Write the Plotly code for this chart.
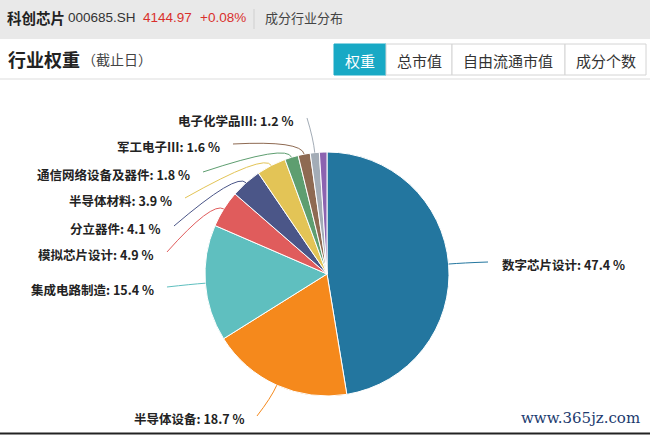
import math
import plotly.graph_objects as go

# ---------------- data ----------------
INDUSTRIES = ["数字芯片设计", "半导体设备", "集成电路制造", "模拟芯片设计", "分立器件",
              "半导体材料", "通信网络设备及器件", "军工电子Ⅲ", "电子化学品Ⅲ", "其他"]
WEIGHTS = [47.4, 18.7, 15.4, 4.9, 4.1, 3.9, 1.8, 1.6, 1.2, 1.0]
SHOW_LABEL = [True, True, True, True, True, True, True, True, True, False]

INDEX_NAME = "科创芯片"
INDEX_CODE = "000685.SH"
INDEX_PRICE = "4144.97"
INDEX_CHANGE = "+0.08%"
TABS = ["权重", "总市值", "自由流通市值", "成分个数"]

# ---------------- style / layout ----------------
COLORS = ["#23769f", "#f5891c", "#5fbfbf", "#e05c5c", "#4b5688",
          "#e3c456", "#5e9e70", "#8e6a52", "#a3acb6", "#8c63b0"]
W, H = 650, 435
CX, CY, R = 327, 274, 122
# label line end points (pixels) - label placement
LABEL_END = [(488, 262), (257, 416), (167, 287), (167, 252), (174, 226),
             (185, 198), (203, 172), (233, 144), (307, 118), None]
LABEL_SIDE = ["left", "right", "right", "right", "right", "right", "right", "right", "right", None]
FONT = "Noto Sans CJK SC"
LATIN = "Liberation Sans"


def px(x):
    return x / W


def py(y):
    return 1 - y / H


fig = go.Figure()
fig.add_trace(go.Pie(
    labels=INDUSTRIES, values=WEIGHTS, sort=False, direction="clockwise", rotation=0,
    marker=dict(colors=COLORS, line=dict(color="white", width=1)),
    textinfo="none", hoverinfo="label+percent", showlegend=False,
    domain=dict(x=[px(CX - R), px(CX + R)], y=[py(CY + R), py(CY - R)]),
))

shapes = []
annotations = []

# header bar
shapes.append(dict(type="rect", xref="paper", yref="paper", x0=0, x1=1, y0=py(39), y1=1,
                   fillcolor="#e9e9e9", line=dict(width=0), layer="below"))
shapes.append(dict(type="line", xref="paper", yref="paper", x0=px(254), x1=px(254), y0=py(9), y1=py(29),
                   line=dict(color="#cfcfcf", width=1)))
hdr = [(5, f"<b>{INDEX_NAME}</b>", 14.5, "#222", FONT), (66, INDEX_CODE, 13.5, "#333", LATIN),
       (141, INDEX_PRICE, 13.5, "#d9302c", LATIN), (198, INDEX_CHANGE, 13.5, "#d9302c", LATIN),
       (263, "成分行业分布", 13, "#444", FONT)]
for x, t, s, c, f in hdr:
    annotations.append(dict(x=px(x), y=py(18), xref="paper", yref="paper", xanchor="left", yanchor="middle",
                            text=t, showarrow=False, font=dict(family=f, size=s, color=c)))

# section title
annotations.append(dict(x=px(6), y=py(59), xref="paper", yref="paper", xanchor="left", yanchor="middle",
                        text="<b>行业权重</b>", showarrow=False, font=dict(family=FONT, size=18, color="#222")))
annotations.append(dict(x=px(80), y=py(59), xref="paper", yref="paper", xanchor="left", yanchor="middle",
                        text="（截止日）", showarrow=False, font=dict(family=FONT, size=14, color="#444")))
shapes.append(dict(type="line", xref="paper", yref="paper", x0=0, x1=1, y0=py(79), y1=py(79),
                   line=dict(color="#dddddd", width=1)))

# tabs
tab_edges = [334, 386, 452, 565, 646]
for i, t in enumerate(TABS):
    x0, x1 = tab_edges[i], tab_edges[i + 1]
    active = i == 0
    shapes.append(dict(type="rect", xref="paper", yref="paper", x0=px(x0), x1=px(x1), y0=py(75), y1=py(44),
                       fillcolor="#18a9c5" if active else "white",
                       line=dict(color="#18a9c5" if active else "#d4d4d4", width=1)))
    annotations.append(dict(x=px((x0 + x1) / 2), y=py(60), xref="paper", yref="paper", xanchor="center",
                            yanchor="middle", text=t, showarrow=False,
                            font=dict(family=FONT, size=15, color="white" if active else "#333")))

# pie labels with leader lines
total = sum(WEIGHTS)
cum = 0.0
for i, v in enumerate(WEIGHTS):
    mid = (cum + v / 2) / total * 2 * math.pi
    cum += v
    if not SHOW_LABEL[i]:
        continue
    sx, sy = CX + R * math.sin(mid), CY - R * math.cos(mid)
    ex_, ey_ = CX + (R + 14) * math.sin(mid), CY - (R + 14) * math.cos(mid)
    lx, ly = LABEL_END[i]
    path = (f"M {px(sx):.5f},{py(sy):.5f} Q {px(ex_):.5f},{py(ey_):.5f} "
            f"{px(lx):.5f},{py(ly):.5f}")
    shapes.append(dict(type="path", xref="paper", yref="paper", path=path,
                       line=dict(color=COLORS[i], width=1)))
    if LABEL_SIDE[i] == "left":
        tx, anchor = lx + 12, "left"
    else:
        tx, anchor = lx - 11, "right"
    annotations.append(dict(x=px(tx), y=py(ly + 2), xref="paper", yref="paper", xanchor=anchor,
                            yanchor="middle", showarrow=False,
                            text=f"<b>{INDUSTRIES[i]}: {v:.1f} %</b>",
                            font=dict(family=FONT, size=12.5, color="#222")))

# watermark & bottom border
annotations.append(dict(x=px(642), y=py(418), xref="paper", yref="paper", xanchor="right", yanchor="middle",
                        text="www.365jz.com", showarrow=False,
                        font=dict(family="DejaVu Serif", size=15, color="#1c3a6e")))
shapes.append(dict(type="line", xref="paper", yref="paper", x0=0, x1=1, y0=py(433.5), y1=py(433.5),
                   line=dict(color="#222", width=2)))

fig.update_layout(width=W, height=H, margin=dict(l=0, r=0, t=0, b=0),
                  paper_bgcolor="white", plot_bgcolor="white",
                  shapes=shapes, annotations=annotations)
fig.write_html("out.html", config={"displayModeBar": False},
               post_script="document.body.style.margin='0';document.body.style.overflow='hidden';")
